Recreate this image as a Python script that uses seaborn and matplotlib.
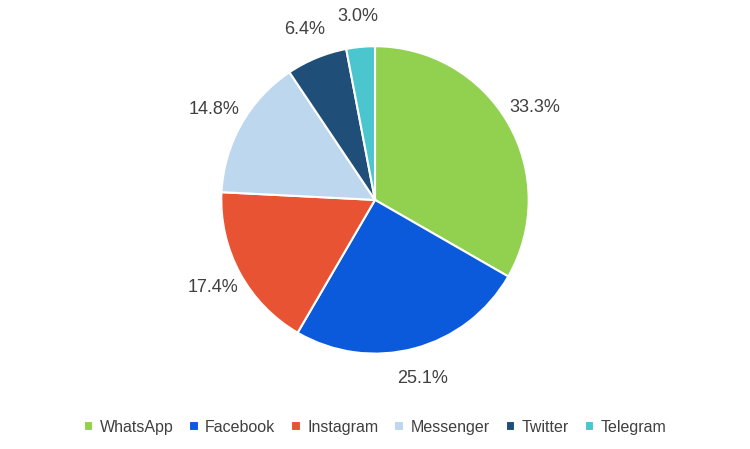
import matplotlib
matplotlib.use("Agg")
import matplotlib.pyplot as plt
import seaborn as sns

categories = ["WhatsApp", "Facebook", "Instagram", "Messenger", "Twitter", "Telegram"]
values = [33.3, 25.1, 17.4, 14.8, 6.4, 3.0]
colors = ["#92D050", "#0B5ADB", "#E85433", "#BDD7EE", "#1F4E79", "#4BC5CE"]

sns.set_theme(style="white")
plt.rcParams['font.family'] = ['Liberation Sans', 'DejaVu Sans']

fig = plt.figure(figsize=(7.5, 4.49), dpi=100)
ax = fig.add_axes([0, 0, 1, 1])
wedges, _, autotexts = ax.pie(values, colors=colors, startangle=90, counterclock=False,
       autopct=lambda p: f"{p:.1f}%", pctdistance=1.2, radius=1,
       center=(0, 0), wedgeprops=dict(edgecolor="white", linewidth=1.5),
       textprops=dict(fontsize=13, color="#404040"))
ax.set_xlim(-2.44, 2.44)
ax.set_ylim(-1.62, 1.3)
ax.set_aspect("equal")
ax.axis("off")
ax.legend(wedges, categories, loc="lower center", bbox_to_anchor=(0.5, 0.0), ncol=6,
          frameon=False, fontsize=11.5, handlelength=0.6, handleheight=0.6,
          columnspacing=1.0, handletextpad=0.4, labelcolor="#404040")
fig.savefig("out.png", dpi=100)
